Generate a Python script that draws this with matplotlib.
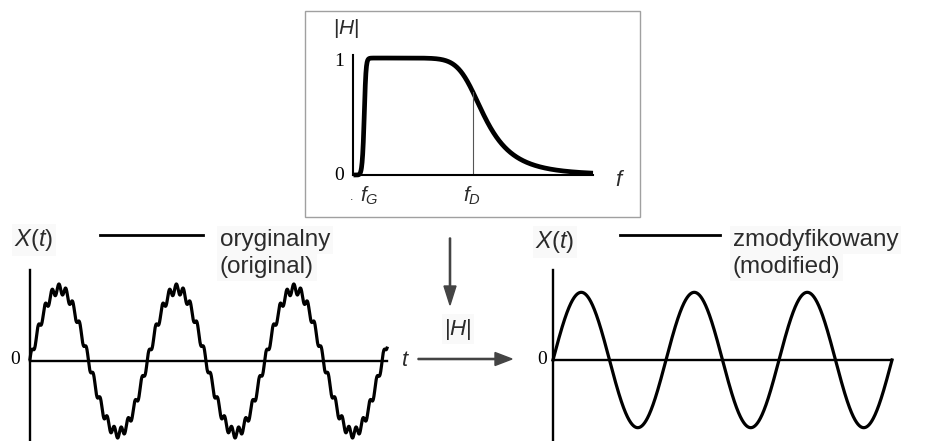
import matplotlib.pyplot as plt
import numpy as np
from matplotlib.patches import Rectangle

# figure size in pixels (dpi 100)
W, H = 929, 441

# filter |H(f)|: band between f_G and f_D (arbitrary frequency units)
FREQ_MAX = 240.0
F_G = 12.0
F_D = 120.0
HIGHPASS_ORDER = 8
LOWPASS_ORDER = 6

# time signals, expressed as sums of sinusoids (t in cycles of the base wave)
ORIGINAL_CYCLES = 3.04
ORIGINAL_HARMONICS = [1, 17]
ORIGINAL_AMPLITUDES = [1.0, 0.07]
ORIGINAL_PHASES = [0.0, 0.4]

MODIFIED_CYCLES = 3.0
MODIFIED_HARMONICS = [1]
MODIFIED_AMPLITUDES = [0.94]
MODIFIED_PHASES = [0.0]

LABEL_ORIGINAL = ["oryginalny", "(original)"]
LABEL_MODIFIED = ["zmodyfikowany", "(modified)"]

TEXT_COLOR = "#2b2b2b"
ARROW_COLOR = "#444444"
LABEL_BG = dict(facecolor="#f9f9f9", edgecolor="none", pad=2)

plt.rcParams["font.family"] = ["Liberation Sans", "DejaVu Sans"]
plt.rcParams["mathtext.fontset"] = "custom"
plt.rcParams["mathtext.rm"] = "Liberation Sans"
plt.rcParams["mathtext.it"] = "Liberation Sans:italic"
plt.rcParams["mathtext.sf"] = "Liberation Sans"


def px_axes(fig, left, top, right, bottom):
    return fig.add_axes([left / W, 1 - bottom / H, (right - left) / W, (bottom - top) / H])


def signal(t, harmonics, amplitudes, phases):
    y = np.zeros_like(t)
    for k, a, p in zip(harmonics, amplitudes, phases):
        y += a * np.sin(2 * np.pi * k * t + p)
    return y


def filter_gain(f):
    hp = 1 / np.sqrt(1 + (F_G / f) ** (2 * HIGHPASS_ORDER))
    lp = 1 / np.sqrt(1 + (f / F_D) ** (2 * LOWPASS_ORDER))
    return hp * lp


def style_axes(ax, zero_bottom=True, lw=1.7):
    for side in ["top", "right"]:
        ax.spines[side].set_visible(False)
    ax.spines["left"].set_linewidth(lw)
    ax.spines["bottom"].set_linewidth(lw)
    if zero_bottom:
        ax.spines["bottom"].set_position(("data", 0))
    ax.set_xticks([])
    ax.set_yticks([])
    ax.patch.set_alpha(0)


fig = plt.figure(figsize=(W / 100, H / 100), dpi=100)

# overlay in pixel coordinates for frame, labels and arrows
over = fig.add_axes([0, 0, 1, 1])
over.set_xlim(0, W)
over.set_ylim(H, 0)
over.axis("off")

over.add_patch(Rectangle((305, 11), 335, 206, fill=False, edgecolor="#a0a0a0", linewidth=1))

# filter response
ax_f = px_axes(fig, 353, 55, 593, 175)
freq = np.linspace(0.5, FREQ_MAX, 1200)
ax_f.plot(freq, filter_gain(freq), color="black", linewidth=3.4, solid_capstyle="butt", clip_on=False)
ax_f.plot([F_D, F_D], [0, filter_gain(np.array([F_D]))[0]], color="#555555", linewidth=0.8)
ax_f.set_xlim(0, FREQ_MAX)
ax_f.set_ylim(0, 1.026)
style_axes(ax_f, zero_bottom=False, lw=1.5)

over.text(346, 29, r"$|H|$", fontsize=15, color=TEXT_COLOR, ha="center", va="center")
over.text(339, 61, "1", family="Liberation Serif", fontsize=14, ha="center", va="center")
over.text(339, 175, "0", family="Liberation Serif", fontsize=14, ha="center", va="center")
over.text(369, 196, r"$f_G$", fontsize=15, color=TEXT_COLOR, ha="center", va="center")
over.text(472, 196, r"$f_D$", fontsize=15, color=TEXT_COLOR, ha="center", va="center")
over.text(352, 197, ".", fontsize=9, color=TEXT_COLOR, ha="center", va="center")
over.text(620, 180, r"$f$", fontsize=16, color=TEXT_COLOR, ha="center", va="center")

# original signal
ax_o = px_axes(fig, 30, 270, 387, 441)
t_o = np.linspace(0, ORIGINAL_CYCLES, 3000)
ax_o.plot(t_o, signal(t_o, ORIGINAL_HARMONICS, ORIGINAL_AMPLITUDES, ORIGINAL_PHASES),
          color="black", linewidth=2.3, clip_on=False)
ax_o.set_xlim(0, ORIGINAL_CYCLES)
ax_o.set_ylim(-80 / 72, 91 / 72)
style_axes(ax_o)

# modified signal
ax_m = px_axes(fig, 553, 270, 892, 441)
t_m = np.linspace(0, MODIFIED_CYCLES, 2000)
ax_m.plot(t_m, signal(t_m, MODIFIED_HARMONICS, MODIFIED_AMPLITUDES, MODIFIED_PHASES),
          color="black", linewidth=2.3, clip_on=False)
ax_m.set_xlim(0, MODIFIED_CYCLES)
ax_m.set_ylim(-81 / 72, 90 / 72)
style_axes(ax_m)

# legends above the signals
over.text(34, 240, r"$X(t)$", fontsize=17, color=TEXT_COLOR, ha="center", va="center", bbox=LABEL_BG)
over.plot([100, 203], [235, 235], color="black", linewidth=2)
over.text(220, 246, LABEL_ORIGINAL[0], fontsize=17.5, color=TEXT_COLOR, va="baseline", bbox=LABEL_BG)
over.text(220, 273, LABEL_ORIGINAL[1], fontsize=17.5, color=TEXT_COLOR, va="baseline", bbox=LABEL_BG)

over.text(555, 242, r"$X(t)$", fontsize=17, color=TEXT_COLOR, ha="center", va="center", bbox=LABEL_BG)
over.plot([620, 720], [235, 235], color="black", linewidth=2)
over.text(733, 246, LABEL_MODIFIED[0], fontsize=17.5, color=TEXT_COLOR, va="baseline", bbox=LABEL_BG)
over.text(733, 273, LABEL_MODIFIED[1], fontsize=17.5, color=TEXT_COLOR, va="baseline", bbox=LABEL_BG)

over.text(15, 360, "0", family="Liberation Serif", fontsize=14, ha="center", va="center")
over.text(542, 360, "0", family="Liberation Serif", fontsize=14, ha="center", va="center")

# flow arrows between the panels
over.arrow(450, 238, 0, 67, width=1.2, head_width=12, head_length=19,
           length_includes_head=True, color=ARROW_COLOR)
over.arrow(418, 359, 94, 0, width=1.2, head_width=13, head_length=17,
           length_includes_head=True, color=ARROW_COLOR)
over.text(405, 360, r"$t$", fontsize=16, color=TEXT_COLOR, ha="center", va="center")
over.text(458, 329, r"$|H|$", fontsize=16, color=TEXT_COLOR, ha="center", va="center", bbox=LABEL_BG)

fig.savefig("out.png", dpi=100)
